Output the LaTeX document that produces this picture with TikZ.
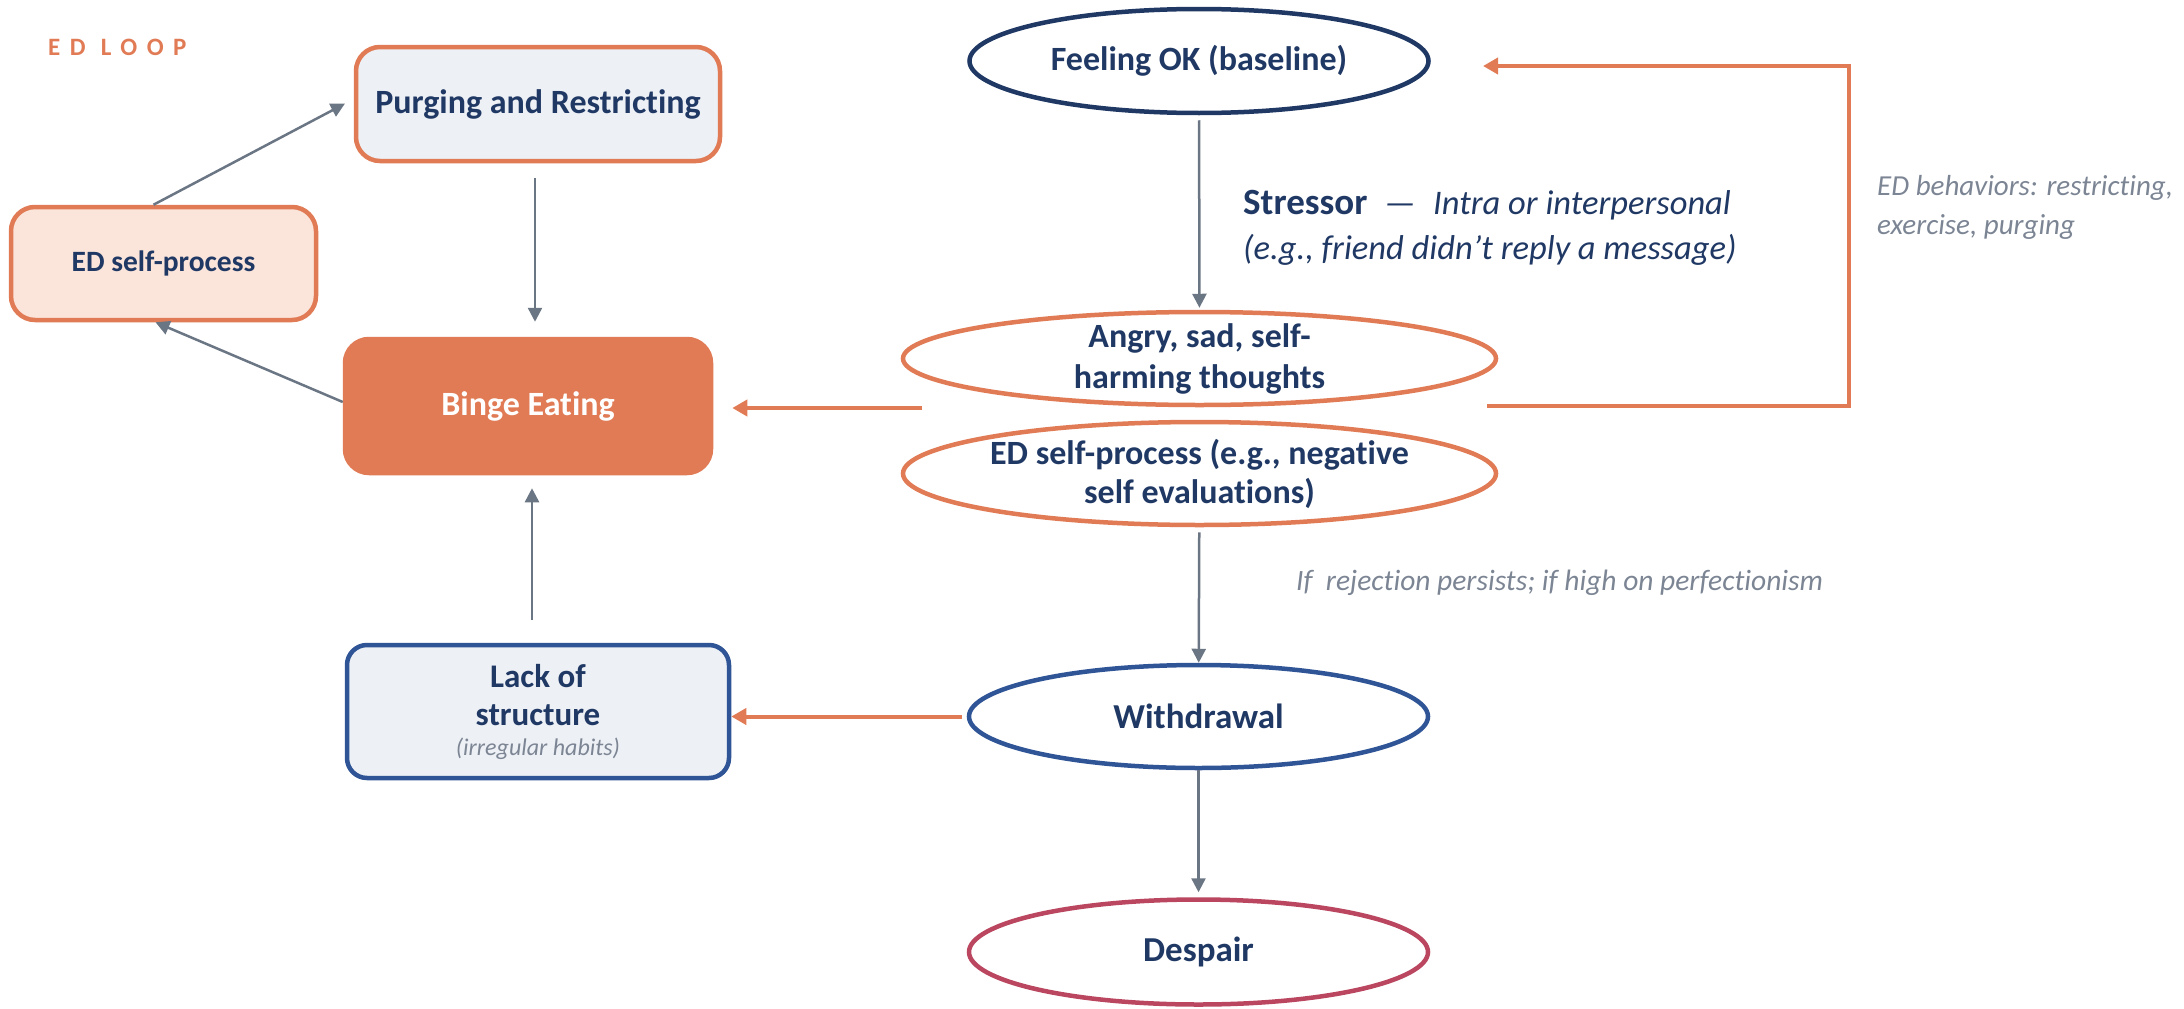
\documentclass[tikz,border=0pt]{standalone}
\usepackage{fontspec}
\setmainfont{Carlito}[Ligatures=NoCommon]
\newfontfamily\loopfont{Carlito}[LetterSpace=38,Ligatures=NoCommon]
\usetikzlibrary{arrows.meta,shapes.geometric}
\definecolor{navy}{HTML}{1F3864}
\definecolor{edorange}{HTML}{E07B55}
\definecolor{paleblue}{HTML}{EDF0F5}
\definecolor{peach}{HTML}{FBE5DA}
\definecolor{midblue}{HTML}{2F5597}
\definecolor{crimson}{HTML}{BA465F}
\definecolor{slate}{HTML}{6B7685}
\definecolor{greytext}{HTML}{7C8594}

\begin{document}
\begin{tikzpicture}[x=1pt,y=-1pt,
  box/.style={rectangle,rounded corners=24pt,line width=4.5pt,align=center,text=navy,font=\bfseries\fontsize{34}{40}\selectfont},
  oval/.style={ellipse,line width=4.5pt,inner xsep=-10pt,inner ysep=-20pt,align=center,text=navy,font=\bfseries\fontsize{34}{41}\selectfont},
  garrow/.style={draw=slate,line width=2.5pt,-{Triangle[length=14pt,width=14pt]}},
  oarrow/.style={draw=edorange,line width=4pt,-{Triangle[length=15pt,width=16pt]}}]
\useasboundingbox (0,0) rectangle (2184,1009);

\node[anchor=west,inner sep=0,text=edorange,font=\loopfont\bfseries\fontsize{25}{30}\selectfont] (title) at (48,47) {ED LOOP};

\node[box,draw=edorange,fill=paleblue,minimum width=364pt,minimum height=114pt] (purge) at (538,104) {Purging and Restricting};
\node[box,draw=edorange,fill=peach,minimum width=305pt,minimum height=113pt,font=\bfseries\fontsize{29.5}{36}\selectfont] (edbox) at (163.5,263.5) {ED self-process};
\node[box,draw=edorange,fill=edorange,text=white,minimum width=366pt,minimum height=134pt] (binge) at (528,406) {Binge Eating};
\node[box,draw=midblue,fill=paleblue,rounded corners=20pt,minimum width=382pt,minimum height=133pt,font=\bfseries\fontsize{33}{38}\selectfont] (lack) at (538,711.5) {Lack of\\structure\\[-8pt]{\mdseries\itshape\color{greytext}\fontsize{24}{28}\selectfont(irregular habits)}};

\node[oval,draw=navy,minimum width=459pt,minimum height=104pt] (feel) at (1199,61) {Feeling OK (baseline)};
\node[oval,draw=edorange,minimum width=593pt,minimum height=93pt] (angry) at (1199.5,358.5) {Angry, sad, self-\\harming thoughts};
\node[oval,draw=edorange,minimum width=593pt,minimum height=103pt,font=\bfseries\fontsize{34}{39}\selectfont] (edproc) at (1199.5,473.5) {ED self-process (e.g., negative\\self evaluations)};
\node[oval,draw=midblue,minimum width=459pt,minimum height=103pt,font=\bfseries\fontsize{35}{40}\selectfont] (withdraw) at (1198.5,716.5) {Withdrawal};
\node[oval,draw=crimson,minimum width=459pt,minimum height=105pt,font=\bfseries\fontsize{35}{40}\selectfont] (despair) at (1198.5,952) {Despair};

\node[anchor=west,align=left,inner sep=0,text=navy,font=\itshape\fontsize{34.5}{45}\selectfont] (stress) at (1243,228) {{\upshape\bfseries\fontsize{37}{45}\selectfont Stressor}\enspace—\enspace Intra or interpersonal\\(e.g., friend didn’t reply a message)};
\node[anchor=west,align=left,inner sep=0,text=greytext,font=\itshape\fontsize{29}{39}\selectfont] (behav) at (1877,207) {ED behaviors: restricting,\\exercise, purging};
\node[anchor=base west,inner sep=0,text=greytext,font=\itshape\fontsize{29.5}{34}\selectfont] (persist) at (1296,590) {If\ \ rejection persists; if high on perfectionism};

\coordinate (gapL) at (922,408);
\coordinate (gapR) at (1487,406);
\coordinate (loopEnd) at (1483,66);

\draw[garrow,shorten <=15pt,shorten >=15pt] ([shift={(-3,0)}]purge.south) -- ([shift={(7,0)}]binge.north);
\draw[garrow,shorten <=23pt,shorten >=13pt] ([shift={(-6,0)}]lack.north) -- ([shift={(4,0)}]binge.south);
\draw[garrow,shorten >=10pt] ([shift={(-10,0)}]edbox.north) -- ([shift={(0,-5)}]purge.west);
\draw[garrow] ([shift={(0,-4)}]binge.west) -- ([shift={(-8,0)}]edbox.south);

\draw[garrow,shorten <=5pt,shorten >=2pt] (feel) -- (angry);
\draw[garrow,shorten <=5pt] (edproc) -- (withdraw);
\draw[garrow,shorten >=5pt] (withdraw) -- (despair);

\draw[oarrow,shorten >=19pt] (gapL) -- (binge.east |- gapL);
\draw[oarrow] ([shift={(-5,0)}]withdraw.west) -- (withdraw.west -| lack.east);
\draw[oarrow] (gapR) -- ++(362,0) |- (loopEnd);
\end{tikzpicture}
\end{document}
